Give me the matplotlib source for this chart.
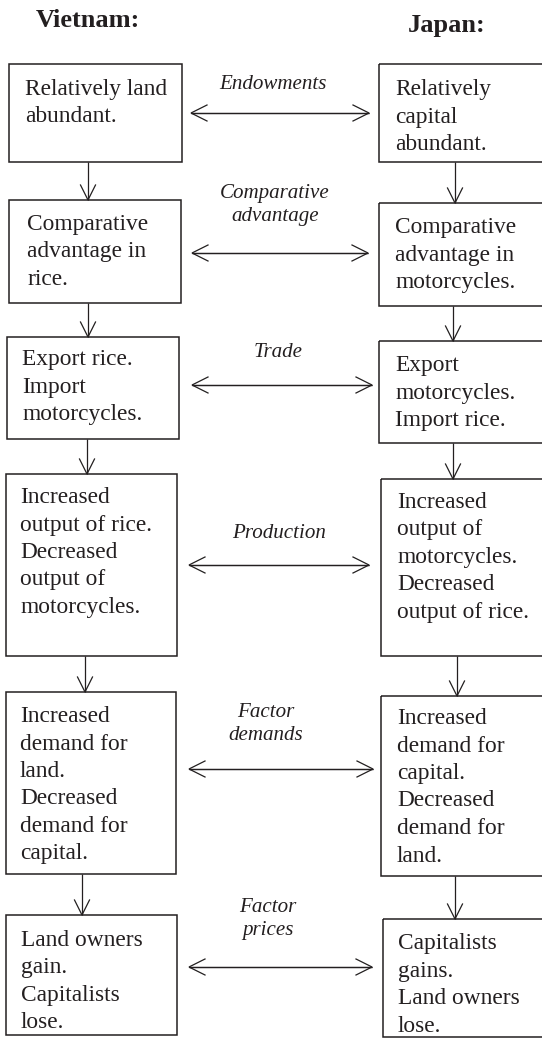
import numpy as np
import matplotlib
matplotlib.use("Agg")
import matplotlib.pyplot as plt
from matplotlib.patches import Rectangle

# Text content
countries = ["Vietnam:", "Japan:"]
vietnam_steps = [
    ["Relatively land", "abundant."],
    ["Comparative", "advantage in", "rice."],
    ["Export rice.", "Import", "motorcycles."],
    ["Increased", "output of rice.", "Decreased", "output of", "motorcycles."],
    ["Increased", "demand for", "land.", "Decreased", "demand for", "capital."],
    ["Land owners", "gain.", "Capitalists", "lose."],
]
japan_steps = [
    ["Relatively", "capital", "abundant."],
    ["Comparative", "advantage in", "motorcycles."],
    ["Export", "motorcycles.", "Import rice."],
    ["Increased", "output of", "motorcycles.", "Decreased", "output of rice."],
    ["Increased", "demand for", "capital.", "Decreased", "demand for", "land."],
    ["Capitalists", "gains.", "Land owners", "lose."],
]
link_labels = [
    ["Endowments"],
    ["Comparative", "advantage"],
    ["Trade"],
    ["Production"],
    ["Factor", "demands"],
    ["Factor", "prices"],
]

# Layout (pixel coordinates, y grows downward)
left_boxes = [(9, 64, 182, 162), (9, 200, 181, 303), (7, 337, 179, 439),
              (6, 474, 177, 656), (6, 692, 176, 874), (6, 915, 177, 1035)]
right_boxes = [(379, 64, 545, 162), (379, 203, 545, 306), (379, 341, 545, 443),
               (381, 479, 545, 656), (381, 696, 545, 876), (383, 919, 545, 1037)]
left_text_x = [25, 27, 22, 20, 20, 21]
right_text_x = [395, 395, 395, 397, 397, 398]
left_first_base = [95, 230, 365, 503, 722, 946]
right_first_base = [95, 233, 371, 508, 724, 949]
line_pitch = 27.5
left_down_x = [88, 88, 87, 85, 82]
right_down_x = [455, 453, 453, 457, 455]
link_y = [113, 253, 385, 565, 769, 967]
link_x = [(191, 369), (192, 368), (192, 372), (189, 369), (189, 373), (189, 372)]
label_x = [273, 275, 278, 279, 266, 268]
label_base = [[89], [198, 221], [357], [538], [717, 740], [912, 935]]

ink = "#231f20"
serif = "Liberation Serif"

fig = plt.figure(figsize=(5.42, 10.38), dpi=100)
ax = fig.add_axes([0, 0, 1, 1])
ax.set_xlim(0, 542)
ax.set_ylim(1038, 0)
ax.axis("off")


def draw_arrow(x0, y0, x1, y1, head=15, half=7.5):
    ax.plot([x0, x1], [y0, y1], color=ink, lw=0.9, solid_capstyle="butt")
    d = np.array([x1 - x0, y1 - y0], dtype=float)
    d /= np.hypot(*d)
    n = np.array([-d[1], d[0]])
    tip = np.array([x1, y1], dtype=float)
    p1 = tip - head * d + half * n
    p2 = tip - head * d - half * n
    ax.plot([p1[0], tip[0], p2[0]], [p1[1], tip[1], p2[1]], color=ink, lw=0.9,
            solid_joinstyle="miter")


# headers
ax.text(88, 27, countries[0], ha="center", va="baseline", fontsize=19,
        fontweight="bold", family=serif, color=ink)
ax.text(447, 32, countries[1], ha="center", va="baseline", fontsize=19,
        fontweight="bold", family=serif, color=ink)

for boxes, steps, tx, base in [(left_boxes, vietnam_steps, left_text_x, left_first_base),
                               (right_boxes, japan_steps, right_text_x, right_first_base)]:
    for (x0, y0, x1, y1), lines, x, b in zip(boxes, steps, tx, base):
        ax.add_patch(Rectangle((x0, y0), x1 - x0, y1 - y0, fill=False,
                               edgecolor=ink, lw=1.1))
        for i, line in enumerate(lines):
            ax.text(x, b + i * line_pitch, line, ha="left", va="baseline",
                    fontsize=16.8, family=serif, color=ink)

# vertical arrows between steps
for boxes, xs in [(left_boxes, left_down_x), (right_boxes, right_down_x)]:
    for i, x in enumerate(xs):
        draw_arrow(x, boxes[i][3], x, boxes[i + 1][1])

# horizontal double arrows with labels
for (xa, xb), y, lab, lx, lb in zip(link_x, link_y, link_labels, label_x, label_base):
    draw_arrow(xb, y, xa, y, head=16, half=8)
    draw_arrow(xa, y, xb, y, head=16, half=8)
    for s, yb in zip(lab, lb):
        ax.text(lx, yb, s, ha="center", va="baseline", fontsize=15.1,
                style="italic", family=serif, color=ink)

fig.savefig("out.png", dpi=100, facecolor="white")
